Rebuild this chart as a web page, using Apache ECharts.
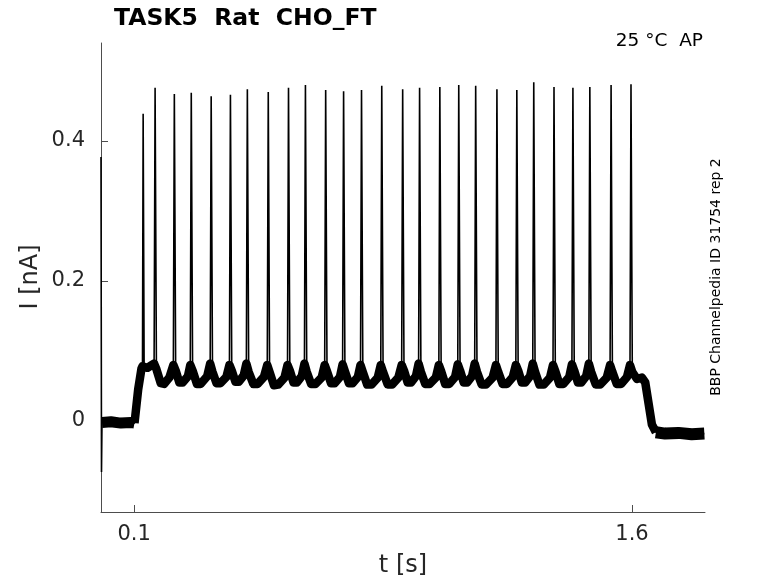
<!DOCTYPE html>
<html>
<head>
<meta charset="utf-8">
<script src="https://cdn.jsdelivr.net/npm/echarts@6/dist/echarts.min.js"></script>
<style>html,body{margin:0;padding:0;background:#fff}#c{width:778px;height:583px}</style>
</head>
<body>
<div id="c"></div>
<script>
// ---- data ----
const titleText = 'TASK5  Rat  CHO_FT';
const tempText = '25 \u00B0C  AP';
const sideText = 'BBP Channelpedia ID 31754 rep 2';
const xTicks = [0.1, 1.6];
const yTicks = [0, 0.2, 0.4];

// spike times (s) and peak currents (nA)
const spikeT = [0.127, 0.163, 0.221, 0.272, 0.332, 0.390, 0.441, 0.504, 0.565, 0.616, 0.677, 0.731, 0.785, 0.846,
  0.909, 0.960, 1.021, 1.078, 1.129, 1.193, 1.253, 1.304, 1.365, 1.422, 1.473, 1.537, 1.597];
const spikePeak = [0.439, 0.476, 0.467, 0.469, 0.464, 0.466, 0.474, 0.470, 0.476, 0.480, 0.473, 0.471, 0.473, 0.479,
  0.474, 0.476, 0.477, 0.480, 0.479, 0.474, 0.473, 0.484, 0.477, 0.476, 0.477, 0.480, 0.481];

// onset artifact at t = 0
const artifact = [[0, 0.377], [0.0015, -0.073]];

// holding current before the step
const preTrace = [
  [0.003, -0.002], [0.03, -0.001], [0.06, -0.003], [0.09, -0.002], [0.101, -0.003]
];
// sub-threshold trace during the step (without spike peaks)
const stimTrace = [
  [0.101, -0.003], [0.112, 0.045], [0.122, 0.075],
  [0.125, 0.078], [0.130, 0.077], [0.140, 0.076], [0.150, 0.079], [0.160, 0.082],
  [0.167, 0.074], [0.180, 0.054], [0.190, 0.053], [0.206, 0.062], [0.218, 0.080],
  [0.225, 0.072], [0.236, 0.055], [0.246, 0.055], [0.262, 0.064], [0.269, 0.080],
  [0.276, 0.072], [0.289, 0.053], [0.300, 0.053], [0.320, 0.064], [0.329, 0.082],
  [0.336, 0.070], [0.348, 0.054], [0.360, 0.054], [0.378, 0.063], [0.387, 0.080],
  [0.394, 0.072], [0.405, 0.056], [0.415, 0.056], [0.430, 0.065], [0.438, 0.082],
  [0.445, 0.070], [0.459, 0.053], [0.472, 0.053], [0.491, 0.063], [0.501, 0.080],
  [0.508, 0.070], [0.521, 0.051], [0.534, 0.052], [0.553, 0.062], [0.562, 0.080],
  [0.569, 0.072], [0.580, 0.055], [0.590, 0.055], [0.605, 0.064], [0.613, 0.082],
  [0.620, 0.070], [0.633, 0.053], [0.646, 0.053], [0.665, 0.062], [0.674, 0.080],
  [0.681, 0.071], [0.693, 0.054], [0.704, 0.054], [0.720, 0.063], [0.728, 0.081],
  [0.735, 0.071], [0.747, 0.054], [0.758, 0.054], [0.774, 0.063], [0.782, 0.080],
  [0.789, 0.070], [0.802, 0.052], [0.815, 0.052], [0.834, 0.062], [0.843, 0.080],
  [0.850, 0.070], [0.864, 0.052], [0.877, 0.052], [0.896, 0.062], [0.906, 0.080],
  [0.913, 0.072], [0.924, 0.055], [0.934, 0.055], [0.949, 0.064], [0.957, 0.082],
  [0.964, 0.070], [0.977, 0.053], [0.990, 0.053], [1.009, 0.062], [1.018, 0.080],
  [1.025, 0.071], [1.037, 0.053], [1.049, 0.053], [1.067, 0.063], [1.075, 0.081],
  [1.082, 0.072], [1.093, 0.055], [1.103, 0.055], [1.118, 0.064], [1.126, 0.082],
  [1.133, 0.070], [1.147, 0.052], [1.160, 0.052], [1.180, 0.062], [1.190, 0.080],
  [1.197, 0.070], [1.210, 0.053], [1.223, 0.053], [1.241, 0.063], [1.250, 0.080],
  [1.257, 0.072], [1.268, 0.055], [1.278, 0.055], [1.293, 0.064], [1.301, 0.082],
  [1.308, 0.070], [1.321, 0.052], [1.334, 0.052], [1.353, 0.062], [1.362, 0.080],
  [1.369, 0.071], [1.381, 0.053], [1.393, 0.053], [1.411, 0.063], [1.419, 0.081],
  [1.426, 0.072], [1.437, 0.055], [1.447, 0.055], [1.462, 0.064], [1.470, 0.082],
  [1.477, 0.070], [1.491, 0.052], [1.504, 0.052], [1.524, 0.062], [1.534, 0.080],
  [1.541, 0.070], [1.554, 0.053], [1.567, 0.053], [1.585, 0.063], [1.594, 0.080],
  [1.601, 0.070], [1.615, 0.060], [1.630, 0.062], [1.640, 0.055], [1.650, 0.025], [1.660, -0.005],
  [1.672, -0.016]
];
// tail current after the step
const postTrace = [
  [1.672, -0.016], [1.700, -0.018], [1.740, -0.017], [1.780, -0.019], [1.818, -0.018]
];

// full trace = artifact + all segments merged with spike peaks
const spikePts = spikeT.map((t, i) => [t, spikePeak[i]]);
const fullTrace = artifact.concat(
  preTrace.concat(stimTrace.slice(1), postTrace.slice(1), spikePts).sort((a, b) => a[0] - b[0])
);

const FONT = 'DejaVu Sans';
const TXT = '#262626';
const band = (data, w) => ({
  type: 'line', data: data, showSymbol: false, symbol: 'none',
  lineStyle: {color: '#000', width: w, join: 'round', cap: 'butt'}, z: 2
});
const chart = echarts.init(document.getElementById('c'), null, {renderer: 'canvas'});
chart.setOption({
  animation: false,
  backgroundColor: '#ffffff',
  grid: {left: 101, right: 73, top: 43, bottom: 71, containLabel: false},
  xAxis: {
    type: 'value', min: 0, max: 1.82,
    axisLine: {show: true, onZero: false, lineStyle: {color: '#4d4d4d', width: 1}},
    axisTick: {show: true, inside: true, length: 7, customValues: xTicks, lineStyle: {color: '#4d4d4d'}},
    axisLabel: {customValues: xTicks, color: TXT, fontFamily: FONT, fontSize: 21, margin: 12},
    splitLine: {show: false}
  },
  yAxis: {
    type: 'value', min: -0.13, max: 0.54,
    axisLine: {show: true, onZero: false, lineStyle: {color: '#4d4d4d', width: 1}},
    axisTick: {show: true, inside: true, length: 7, customValues: yTicks, lineStyle: {color: '#4d4d4d'}},
    axisLabel: {customValues: yTicks, color: TXT, fontFamily: FONT, fontSize: 21, margin: 16},
    splitLine: {show: false}
  },
  series: [
    band(preTrace, 11),
    band(stimTrace, 8.5),
    band(postTrace, 12),
    {
      type: 'line', data: fullTrace, showSymbol: false, symbol: 'none',
      lineStyle: {color: '#000', width: 1.6}, z: 3
    }
  ],
  graphic: [
    {type: 'text', left: 114, top: 7, style: {text: titleText, font: 'bold 23.5px "DejaVu Sans"', fill: '#000'}},
    {type: 'text', x: 703, y: 41, style: {text: tempText, font: '18.5px "DejaVu Sans"', fill: '#000', align: 'right', verticalAlign: 'middle'}},
    {type: 'text', x: 716, y: 277, rotation: Math.PI / 2, style: {text: sideText, font: '14px "DejaVu Sans"', fill: '#000', align: 'center', verticalAlign: 'middle'}},
    {type: 'text', x: 31, y: 277, rotation: Math.PI / 2, style: {text: 'I [nA]', font: '24px "DejaVu Sans"', fill: TXT, align: 'center', verticalAlign: 'middle'}},
    {type: 'text', x: 403, y: 566, style: {text: 't [s]', font: '24px "DejaVu Sans"', fill: TXT, align: 'center', verticalAlign: 'middle'}}
  ]
});
</script>
</body>
</html>
